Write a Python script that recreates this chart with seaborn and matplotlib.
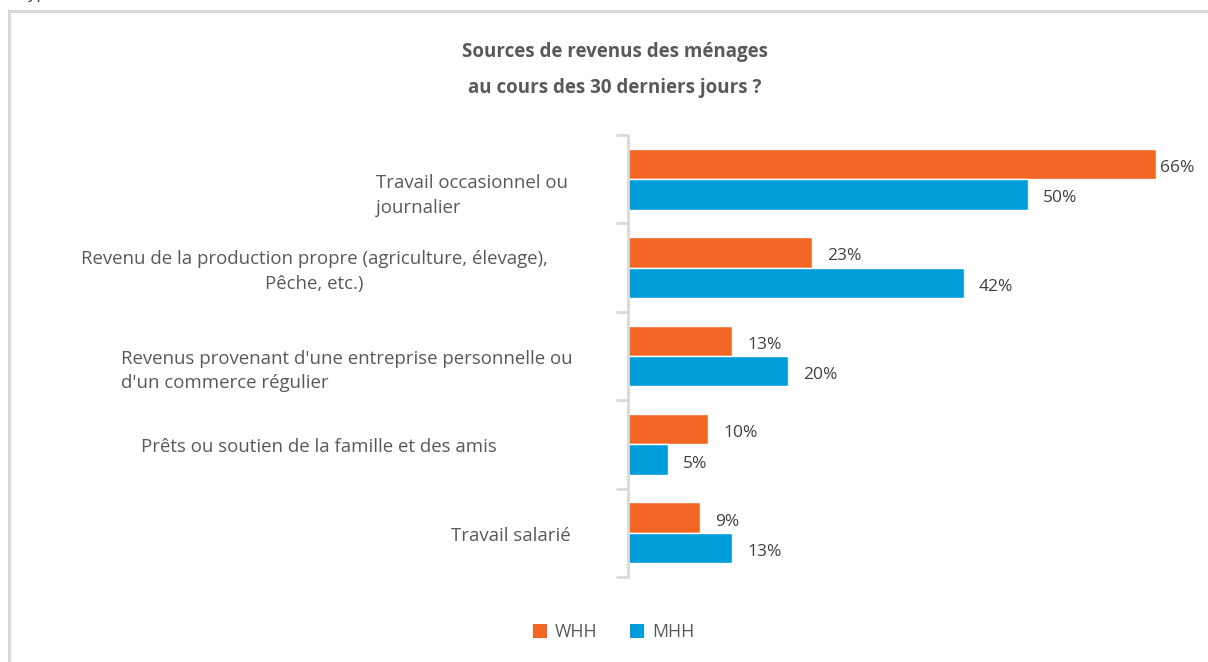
import matplotlib
matplotlib.use("Agg")
import matplotlib.pyplot as plt
import matplotlib.transforms as mtransforms
from matplotlib.patches import Rectangle
import pandas as pd
import seaborn as sns

# Income sources over the last 30 days, share of households (%)
categories = [
    "Travail occasionnel ou\njournalier",
    "Revenu de la production propre (agriculture, élevage),\nPêche, etc.)",
    "Revenus provenant d'une entreprise personnelle ou\nd'un commerce régulier",
    "Prêts ou soutien de la famille et des amis",
    "Travail salarié",
]
whh = [66, 23, 13, 10, 9]
mhh = [50, 42, 20, 5, 13]
series = ["WHH", "MHH"]
colors = {"WHH": "#F26522", "MHH": "#009DDB"}

df = pd.DataFrame({
    "cat": categories * 2,
    "grp": ["WHH"] * len(categories) + ["MHH"] * len(categories),
    "val": whh + mhh,
})

sns.set_theme(style="white")
plt.rcParams["font.family"] = ["Open Sans", "DejaVu Sans"]

W, H = 1208, 662
fig = plt.figure(figsize=(W / 100, H / 100), dpi=100)
fig.patch.set_facecolor("white")

# outer chart frame
fig.patches.append(Rectangle((8.5 / W, -0.05), 1.1, 1 - 10.5 / H + 0.05,
                             transform=fig.transFigure, fill=False,
                             edgecolor="#D9D9D9", linewidth=2.2, zorder=0))
fig.text(20 / W, 1 + 6 / H, "Typ", fontsize=12, color="#404040",
         ha="left", va="center")

ax = fig.add_axes([628 / W, 1 - 577 / H, 576 / W, 442 / H])
sns.barplot(data=df, y="cat", x="val", hue="grp", hue_order=series,
            palette=colors, orient="h", width=0.69, saturation=1,
            legend=False, ax=ax)
ax.set_xlim(0, 72)
ax.set_ylim(4.5, -0.5)
ax.set_xlabel("")
ax.set_ylabel("")
ax.set_xticks([])
ax.set_yticks([i - 0.5 for i in range(len(categories) + 1)])
ax.set_yticklabels([])
ax.tick_params(axis="y", length=9, width=2, color="#D9D9D9", left=True)
for s in ["top", "right", "bottom"]:
    ax.spines[s].set_visible(False)
ax.spines["left"].set_color("#D9D9D9")
ax.spines["left"].set_linewidth(2)
ax.patch.set_alpha(0)

# value labels
for cont, vals in zip(ax.containers, [whh, mhh]):
    for bar, v in zip(cont, vals):
        pad = 4 if v > 60 else 15
        off = mtransforms.offset_copy(ax.transData, fig=fig, x=pad, y=-4,
                                      units="dots")
        ax.text(bar.get_width(), bar.get_y() + bar.get_height() / 2,
                f"{v}%", transform=off, ha="left", va="center",
                fontsize=12.5, color="#404040")

# category labels: (left pixel, alignment, vertical pixel offset)
label_pos = [(376, "left", 16), (81, "center", 4), (121, "left", 15),
             (141, "left", 3), (451, "left", 3)]
for i, (cat, (xp, ma, dy)) in enumerate(zip(categories, label_pos)):
    tr = mtransforms.blended_transform_factory(fig.transFigure, ax.transData)
    tr = tr + mtransforms.ScaledTranslation(0, -dy / 100, fig.dpi_scale_trans)
    ax.text(xp / W, i, cat, transform=tr, ha="left", va="center",
            multialignment=ma, fontsize=13.4, color="#595959",
            linespacing=1.5)

fig.text(615 / W, 1 - 52 / H, "Sources de revenus des ménages",
         ha="center", va="center", fontsize=13.5, fontweight="bold",
         color="#595959")
fig.text(615 / W, 1 - 88 / H, "au cours des 30 derniers jours ?",
         ha="center", va="center", fontsize=13.5, fontweight="bold",
         color="#595959")

# legend
for xs, name in [(533, "WHH"), (630, "MHH")]:
    fig.patches.append(Rectangle((xs / W, 1 - 638 / H), 14 / W, 14 / H,
                                 transform=fig.transFigure,
                                 facecolor=colors[name], edgecolor="none"))
    fig.text((xs + 22) / W, 1 - 632 / H, name, ha="left", va="center",
             fontsize=12.8, color="#595959")

fig.savefig("out.png", dpi=100, facecolor="white")
